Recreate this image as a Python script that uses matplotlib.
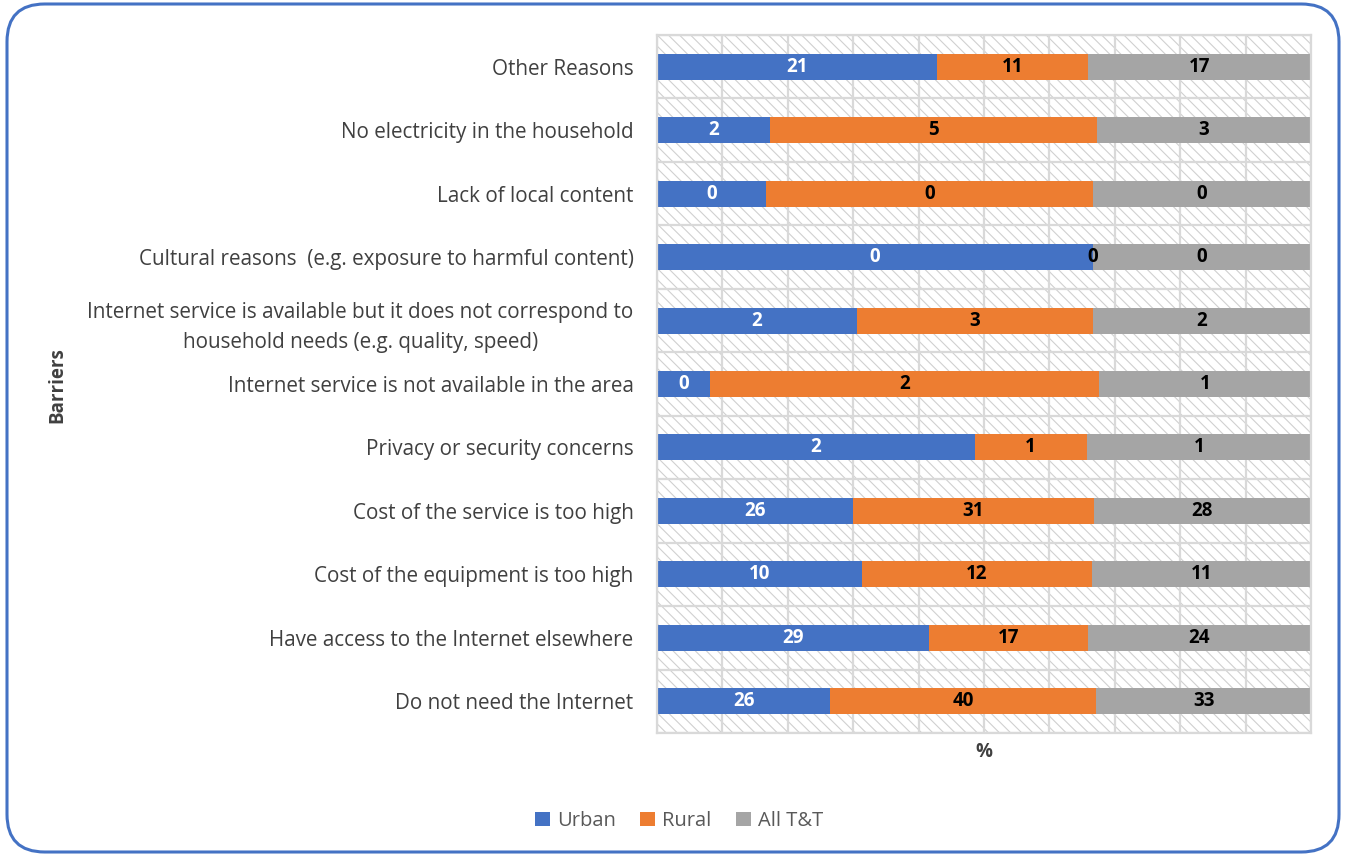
import matplotlib
matplotlib.use("Agg")
import matplotlib.pyplot as plt
from matplotlib.patches import Rectangle, FancyBboxPatch
import numpy as np

plt.rcParams['font.family'] = ['Open Sans', 'DejaVu Sans']
plt.rcParams['hatch.linewidth'] = 0.8

# Barriers to household Internet access (% of households), listed top to bottom
categories = [
    "Other Reasons",
    "No electricity in the household",
    "Lack of local content",
    "Cultural reasons  (e.g. exposure to harmful content)",
    "Internet service is available but it does not correspond to\nhousehold needs (e.g. quality, speed)",
    "Internet service is not available in the area",
    "Privacy or security concerns",
    "Cost of the service is too high",
    "Cost of the equipment is too high",
    "Have access to the Internet elsewhere",
    "Do not need the Internet",
]
urban = [21.2, 1.8, 0.1, 0.2, 2.2, 0.3, 1.7, 25.6, 10.3, 29.2, 26.3]
rural = [11.4, 5.2, 0.3, 0.0, 2.6, 2.2, 0.6, 31.4, 11.6, 17.1, 40.4]
all_tt = [16.9, 3.4, 0.2, 0.1, 2.4, 1.2, 1.2, 28.4, 11.0, 24.0, 32.6]

series = [("Urban", urban, "#4472C4", "white"),
          ("Rural", rural, "#ED7D31", "black"),
          ("All T&T", all_tt, "#A5A5A5", "black")]

fig = plt.figure(figsize=(13.46, 8.58), dpi=100)

# rounded outer frame
frame = FancyBboxPatch((7 / 1346, 6 / 858), 1332 / 1346, 848 / 858,
                       boxstyle="round,pad=0,rounding_size=0.028",
                       transform=fig.transFigure, facecolor="none",
                       edgecolor="#4472C4", linewidth=2.2, zorder=5,
                       mutation_aspect=1346 / 858)
fig.patches.append(frame)

ax = fig.add_axes([657 / 1346, 1 - 733 / 858, 654 / 1346, 698 / 858])
ax.set_facecolor("none")

n = len(categories)
y = np.arange(n)
totals = np.array(urban) + np.array(rural) + np.array(all_tt)

# hatched plot background
bg = Rectangle((0, -0.5), 1, n, facecolor="white", edgecolor="#D0D0D0",
               hatch="\\\\\\", linewidth=0, zorder=0)
ax.add_patch(bg)

# gridlines
for gx in np.arange(0, 1.01, 0.1):
    ax.axvline(gx, color="#D9D9D9", linewidth=1.6, zorder=1)
for gy in np.arange(-0.5, n, 1.0):
    ax.axhline(gy, color="#D9D9D9", linewidth=1.6, zorder=1)

left = np.zeros(n)
handles = []
for name, vals, color, tcolor in series:
    vals = np.array(vals)
    share = vals / totals
    bars = ax.barh(y, share, left=left, height=0.41, color=color,
                   label=name, zorder=2)
    handles.append(bars)
    for yi, l, s, v in zip(y, left, share, vals):
        ax.text(l + s / 2, yi, f"{v:.0f}", ha="center", va="center",
                color=tcolor, fontsize=13.5, fontweight="bold", zorder=3)
    left = left + share

ax.set_xlim(0, 1)
ax.set_ylim(n - 0.5, -0.5)
ax.set_yticks(y)
ax.set_yticklabels(categories, fontsize=14.9, color="#404040",
                   multialignment="center", linespacing=1.55)
ax.set_xticks([])
ax.tick_params(axis="y", length=0, pad=17)
for sp in ax.spines.values():
    sp.set_color("#D9D9D9")
    sp.set_linewidth(1.6)

fig.text(984 / 1346, 1 - 752 / 858, "%", ha="center", va="center",
         fontsize=13.5, fontweight="bold", color="#404040")
fig.text(57 / 1346, 1 - 385 / 858, "Barriers", ha="center", va="center",
         rotation=90, fontsize=13.5, fontweight="bold", color="#404040")

leg = fig.legend(handles=handles, labels=[s[0] for s in series],
                 loc="center", bbox_to_anchor=(679 / 1346, 1 - 821 / 858),
                 ncol=3, frameon=False, fontsize=14.5, handlelength=0.75,
                 handleheight=0.75, handletextpad=0.35, columnspacing=1.2)
for t in leg.get_texts():
    t.set_color("#595959")

fig.savefig("out.png", dpi=100)
